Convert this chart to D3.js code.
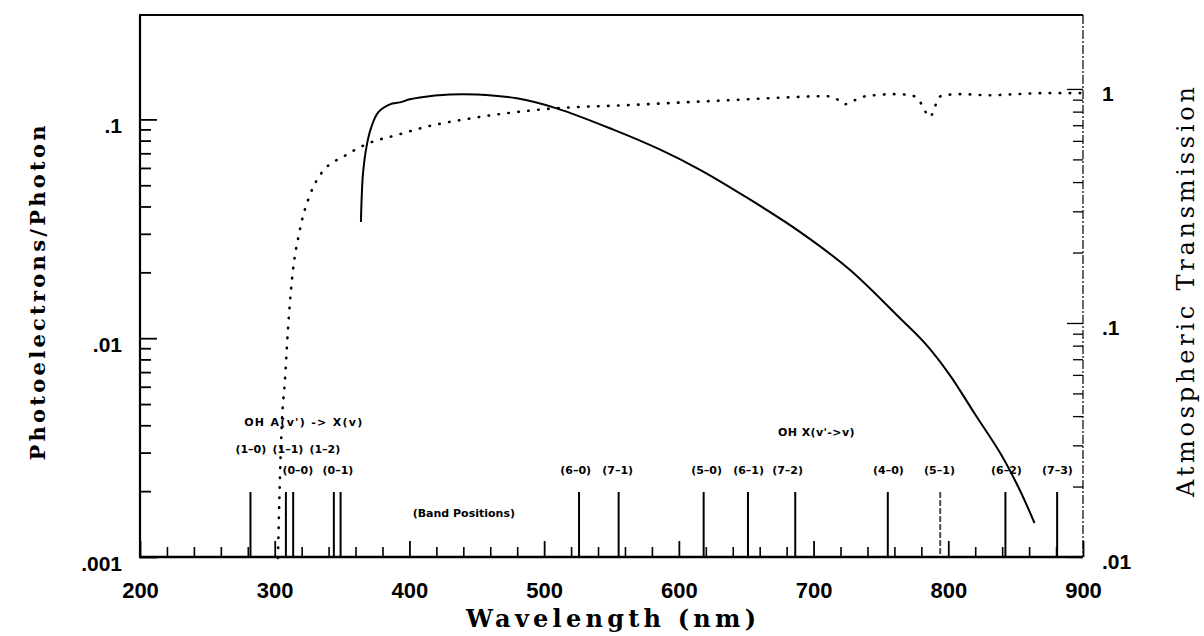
<!DOCTYPE html>
<html>
<head>
<meta charset="utf-8">
<script src="https://cdn.jsdelivr.net/npm/d3@7/dist/d3.min.js"></script>
<style>
  html, body { margin: 0; padding: 0; background: #fff; }
  svg { display: block; }
</style>
</head>
<body>
<svg id="chart" width="1204" height="636"></svg>
<script>
// ---------- DATA ----------
// Photocathode quantum efficiency (left axis, photoelectrons/photon)
const qeWavelength = [364, 364.5, 365.6, 368.6, 371.9, 376.8, 385.5, 392.9, 400.3, 407.7, 430, 450, 479.7, 509.3, 550.9, 585.8, 615.4, 650.3, 689.6, 726.7, 763.8, 782.3, 800.9, 819.4, 839.5, 852.8, 864];
const qeValue      = [0.034, 0.043, 0.0572, 0.0777, 0.0929, 0.1077, 0.1171, 0.1196, 0.1235, 0.126, 0.130, 0.130, 0.1248, 0.1123, 0.090, 0.0729, 0.059, 0.044, 0.0307, 0.0206, 0.0124, 0.00954, 0.00682, 0.00454, 0.00292, 0.00204, 0.00143];

// Atmospheric transmission (right axis)
const transWavelength = [302.4, 303.9, 305.3, 307.6, 309.8, 312.8, 318.7, 326.1, 331.3, 338.7, 350.6, 368.4, 390.7, 415.1, 442.6, 501.9, 565.7, 639.9, 687.4, 700, 712, 718, 723, 728, 735, 745, 760, 772, 778, 782, 786, 789, 792, 796, 810, 830, 850, 870, 900];
const transValue      = [0.0099, 0.022, 0.0374, 0.057, 0.0933, 0.153, 0.25, 0.352, 0.4085, 0.464, 0.512, 0.582, 0.636, 0.695, 0.744, 0.821, 0.855, 0.897, 0.924, 0.93, 0.93, 0.9, 0.86, 0.88, 0.92, 0.94, 0.95, 0.94, 0.9, 0.82, 0.76, 0.8, 0.9, 0.94, 0.95, 0.94, 0.95, 0.96, 0.96];

// OH band positions (nm)
const bandAX      = [282, 308.3, 313.7, 343.9, 348.9];
const bandMeinel  = [525.9, 555.3, 618.4, 651.3, 686.4, 755.1, 794, 842.4, 880.8];

// Band labels: text, wavelength of label centre, row
const bandLabelTexts = ["(1–0)", "(1–1)", "(1–2)", "(0–0)", "(0–1)", "(6–0)", "(7–1)", "(5–0)", "(6–1)", "(7–2)", "(4–0)", "(5–1)", "(6–2)", "(7–3)"];
const bandLabelNm    = [282.3, 309.8, 337.2, 317.2, 346.9, 523.4, 554.6, 620.6, 651.8, 680.7, 755.6, 793.5, 843.2, 881];
const bandLabelRow   = [0, 0, 0, 1, 1, 1, 1, 1, 1, 1, 1, 1, 1, 1];

const noteTexts = ["OH A(v') -> X(v)", "(Band Positions)", "OH X(v'->v)"];
const noteNm    = [321.7, 440.4, 702.2];

// Axis ticks
const xMajorTicks = [200, 300, 400, 500, 600, 700, 800, 900];
const leftMajorTicks = [0.001, 0.01, 0.1];
const rightMajorTicks = [0.01, 0.1, 1];

// ---------- LAYOUT ----------
const svg = d3.select("#chart");
const L = 140, R = 1083, T = 15, B = 557;

const x = d3.scaleLinear().domain([200, 900]).range([L, R]);
const yL = d3.scaleLog().domain([0.001, 0.3]).range([B, T]);
const yR = d3.scaleLog().domain([0.01, 2.07]).range([B, T]);

const fmt = d => String(+d.toPrecision(3)).replace(/^0\./, ".");

function minorLog(lo, hi, maxVal) {
  const out = [];
  for (let dec = lo; dec < hi; dec *= 10) {
    for (let m = 2; m <= 9; m++) {
      const v = m * dec;
      if (v < maxVal * 0.98) out.push(v);
    }
  }
  return out;
}

const tickFont = "'Liberation Sans', Arial, sans-serif";

// Bottom axis: minor ticks every 20 nm
const xMinor = d3.range(220, 900, 20).filter(v => v % 100 !== 0);
svg.append("g").attr("transform", `translate(0,${B})`)
  .call(d3.axisBottom(x).tickValues(xMinor).tickSizeInner(-10).tickSizeOuter(0).tickFormat(""))
  .call(g => g.select(".domain").remove())
  .call(g => g.selectAll("line").attr("stroke", "#000").attr("stroke-width", 1.6));

svg.append("g").attr("transform", `translate(0,${B})`)
  .call(d3.axisBottom(x).tickValues(xMajorTicks).tickSizeInner(-16).tickSizeOuter(0).tickPadding(25).tickFormat(d3.format("d")))
  .call(g => g.select(".domain").remove())
  .call(g => g.selectAll("line").attr("stroke", "#000").attr("stroke-width", 1.8))
  .call(g => g.selectAll("text").attr("font-family", tickFont).attr("font-weight", "bold").attr("font-size", 22).attr("fill", "#000"));

// Left axis
svg.append("g").attr("transform", `translate(${L},0)`)
  .call(d3.axisLeft(yL).tickValues(minorLog(0.001, 0.1, 0.3)).tickSizeInner(-11).tickSizeOuter(0).tickFormat(""))
  .call(g => g.select(".domain").remove())
  .call(g => g.selectAll("line").attr("stroke", "#000").attr("stroke-width", 1.8));
svg.append("g").attr("transform", `translate(${L},0)`)
  .call(d3.axisLeft(yL).tickValues(leftMajorTicks).tickSizeInner(-17).tickSizeOuter(0).tickPadding(18).tickFormat(fmt))
  .call(g => g.select(".domain").remove())
  .call(g => g.selectAll("line").attr("stroke", "#000").attr("stroke-width", 1.8))
  .call(g => g.selectAll("text").attr("font-family", tickFont).attr("font-weight", "bold").attr("font-size", 21).attr("fill", "#000").attr("dy", "0.62em"));

// Right axis
svg.append("g").attr("transform", `translate(${R},0)`)
  .call(d3.axisRight(yR).tickValues(minorLog(0.01, 1, 1.01)).tickSizeInner(-10).tickSizeOuter(0).tickFormat(""))
  .call(g => g.select(".domain").remove())
  .call(g => g.selectAll("line").attr("stroke", "#000").attr("stroke-width", 1.3));
svg.append("g").attr("transform", `translate(${R},0)`)
  .call(d3.axisRight(yR).tickValues(rightMajorTicks).tickSizeInner(-16).tickSizeOuter(0).tickPadding(19).tickFormat(fmt))
  .call(g => g.select(".domain").remove())
  .call(g => g.selectAll("line").attr("stroke", "#000").attr("stroke-width", 1.3))
  .call(g => g.selectAll("text").attr("font-family", tickFont).attr("font-weight", "bold").attr("font-size", 21).attr("fill", "#000").attr("dy", "0.55em"));

// Frame
const frame = svg.append("g").attr("fill", "none").attr("stroke", "#000");
frame.append("line").attr("x1", L).attr("x2", L).attr("y1", T).attr("y2", B).attr("stroke-width", 2.2);
frame.append("line").attr("x1", L - 1).attr("x2", R).attr("y1", B).attr("y2", B).attr("stroke-width", 2.4);
frame.append("line").attr("x1", L - 1).attr("x2", R).attr("y1", T).attr("y2", T).attr("stroke-width", 2);
frame.append("line").attr("x1", R).attr("x2", R).attr("y1", T).attr("y2", B).attr("stroke-width", 1.2).attr("stroke-dasharray", "9,2,2,2");

// Band position lines
const bandTop = 492;
svg.append("g").selectAll("line").data(bandAX.concat(bandMeinel)).join("line")
  .attr("x1", d => x(d)).attr("x2", d => x(d))
  .attr("y1", bandTop).attr("y2", B)
  .attr("stroke", "#000").attr("stroke-width", 2)
  .attr("stroke-dasharray", d => d === 794 ? "6,2" : null)
  .attr("stroke-opacity", d => d === 794 ? 0.7 : 1);

// Band labels
const labelFont = "'DejaVu Sans', Verdana, sans-serif";
const rowY = [449, 470];
svg.append("g").selectAll("text").data(bandLabelTexts).join("text")
  .attr("x", (d, i) => x(bandLabelNm[i]))
  .attr("y", (d, i) => rowY[bandLabelRow[i]])
  .attr("dy", "0.35em")
  .attr("text-anchor", "middle")
  .attr("font-family", labelFont).attr("font-weight", "bold").attr("font-size", 11)
  .text(d => d);

const noteY = [422, 513, 432];
const noteSpacing = [1.3, 0, 0.4];
svg.append("g").selectAll("text").data(noteTexts).join("text")
  .attr("x", (d, i) => x(noteNm[i]))
  .attr("y", (d, i) => noteY[i])
  .attr("dy", "0.35em")
  .attr("text-anchor", "middle")
  .attr("letter-spacing", (d, i) => noteSpacing[i])
  .attr("font-family", labelFont).attr("font-weight", "bold").attr("font-size", 11)
  .text(d => d);

// Curves
const qeData = qeWavelength.map((w, i) => [w, qeValue[i]]);
const trData = transWavelength.map((w, i) => [w, transValue[i]]);

svg.append("path").datum(trData)
  .attr("fill", "none").attr("stroke", "#000").attr("stroke-width", 2.6)
  .attr("stroke-linecap", "round").attr("stroke-dasharray", "0.5,9.5")
  .attr("d", d3.line().x(d => x(d[0])).y(d => yR(d[1])).curve(d3.curveMonotoneX));

svg.append("path").datum(qeData)
  .attr("fill", "none").attr("stroke", "#000").attr("stroke-width", 2)
  .attr("d", d3.line().x(d => x(d[0])).y(d => yL(d[1])).curve(d3.curveCatmullRom.alpha(0.5)));

// Axis titles
const titleFont = "'DejaVu Serif', 'Liberation Serif', serif";
svg.append("text")
  .attr("transform", `translate(38,293) rotate(-90)`)
  .attr("text-anchor", "middle").attr("dy", "0.35em")
  .attr("font-family", titleFont).attr("font-weight", "bold").attr("font-size", 21)
  .attr("textLength", 335).attr("lengthAdjust", "spacing")
  .text("Photoelectrons/Photon");

svg.append("text")
  .attr("transform", `translate(1186,292) rotate(-90)`)
  .attr("text-anchor", "middle").attr("dy", "0.35em")
  .attr("font-family", titleFont).attr("font-size", 24)
  .attr("textLength", 410).attr("lengthAdjust", "spacing")
  .text("Atmospheric Transmission");

svg.append("text")
  .attr("x", 611).attr("y", 619)
  .attr("text-anchor", "middle").attr("dy", "0.35em")
  .attr("font-family", titleFont).attr("font-weight", "bold").attr("font-size", 24)
  .attr("textLength", 290).attr("lengthAdjust", "spacing")
  .text("Wavelength (nm)");
</script>
</body>
</html>
